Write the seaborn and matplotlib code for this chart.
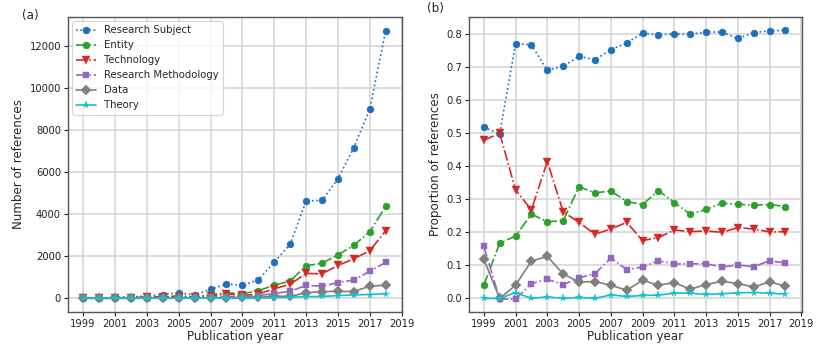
import matplotlib
matplotlib.use("Agg")
import matplotlib.pyplot as plt
import seaborn as sns
import numpy as np

years = list(range(1999, 2019))
series_names = ["Research Subject", "Entity", "Technology",
                "Research Methodology", "Data", "Theory"]

# (a) Number of references
count_subject = [26, 6, 55, 70, 105, 180, 265, 155, 420, 685, 615, 878, 1720, 2570, 4630, 4655, 5680, 7160, 9000, 12720]
count_entity = [2, 2, 13, 23, 35, 60, 122, 69, 181, 260, 218, 359, 624, 820, 1550, 1665, 2060, 2520, 3170, 4370]
count_technology = [24, 6, 23, 24, 63, 67, 83, 42, 117, 204, 134, 203, 450, 670, 1180, 1165, 1560, 1880, 2260, 3210]
count_methodology = [8, 0, 0, 4, 9, 11, 22, 16, 68, 77, 73, 126, 230, 335, 610, 580, 750, 870, 1290, 1710]
count_data = [6, 0, 3, 10, 19, 19, 18, 11, 22, 22, 42, 44, 103, 90, 260, 320, 330, 320, 580, 620]
count_theory = [0, 0, 1, 0, 1, 0, 1, 0, 6, 5, 7, 11, 34, 51, 75, 90, 125, 160, 180, 215]

# (b) Proportion of references
prop_subject = [0.517, 0.498, 0.770, 0.767, 0.690, 0.702, 0.732, 0.722, 0.752, 0.773, 0.802, 0.797, 0.800, 0.799, 0.806, 0.805, 0.786, 0.804, 0.809, 0.811]
prop_entity = [0.040, 0.167, 0.189, 0.255, 0.232, 0.235, 0.338, 0.319, 0.325, 0.293, 0.284, 0.326, 0.290, 0.255, 0.269, 0.288, 0.285, 0.282, 0.284, 0.278]
prop_technology = [0.478, 0.500, 0.328, 0.268, 0.414, 0.262, 0.230, 0.194, 0.210, 0.230, 0.175, 0.184, 0.207, 0.202, 0.204, 0.200, 0.214, 0.210, 0.201, 0.202]
prop_methodology = [0.158, -0.002, -0.002, 0.045, 0.058, 0.042, 0.062, 0.075, 0.122, 0.087, 0.095, 0.114, 0.104, 0.105, 0.105, 0.095, 0.101, 0.096, 0.114, 0.107]
prop_data = [0.119, 0.000, 0.040, 0.113, 0.127, 0.074, 0.050, 0.051, 0.040, 0.025, 0.055, 0.040, 0.048, 0.028, 0.042, 0.052, 0.045, 0.035, 0.050, 0.037]
prop_theory = [0.000, 0.000, 0.018, 0.000, 0.005, 0.000, 0.003, 0.000, 0.011, 0.006, 0.009, 0.010, 0.016, 0.016, 0.012, 0.014, 0.017, 0.018, 0.016, 0.013]

counts = [count_subject, count_entity, count_technology, count_methodology, count_data, count_theory]
props = [prop_subject, prop_entity, prop_technology, prop_methodology, prop_data, prop_theory]

colors = ["#1f6fba", "#2ca02c", "#d62728", "#9467bd", "#7f7f7f", "#17becf"]
markers = ["o", "o", "v", "s", "D", "*"]
linestyles = [":", "-.", "-.", "-.", "-", "-"]
msizes = [5.0, 5.0, 5.4, 4.8, 4.8, 5.6]

sns.set_theme(style="whitegrid", rc={
    "axes.edgecolor": "#555555",
    "axes.linewidth": 1.0,
    "grid.color": "#d3d3d3",
    "grid.linewidth": 1.1,
    "xtick.bottom": True,
    "ytick.left": True,
    "xtick.color": "#222222",
    "ytick.color": "#222222",
    "xtick.major.size": 3,
    "ytick.major.size": 3,
    "axes.facecolor": "white",
})
plt.rcParams["font.family"] = ["DejaVu Sans"]

fig = plt.figure(figsize=(8.22, 3.51), dpi=100)
ax1 = fig.add_axes([0.0827, 0.112, 0.4063, 0.8396])
ax2 = fig.add_axes([0.5702, 0.112, 0.4051, 0.8396])

for ax, data in ((ax1, counts), (ax2, props)):
    for name, vals, c, m, ls, ms in zip(series_names, data, colors, markers, linestyles, msizes):
        sns.lineplot(x=years, y=vals, ax=ax, color=c, marker=m, linestyle=ls,
                     linewidth=1.2, markersize=ms, markeredgewidth=0.3,
                     markeredgecolor=c, label=name, legend=False)
    ax.set_xticks(list(range(1999, 2020, 2)))
    ax.set_xlim(1998.05, 2019.02)
    ax.tick_params(axis="both", labelsize=7.2, pad=2, length=3, width=0.8)
    ax.set_xlabel("Publication year", fontsize=8.6, labelpad=1)
    for s in ax.spines.values():
        s.set_color("#555555")

ax1.set_ylim(-636, 13368)
ax1.set_yticks([0, 2000, 4000, 6000, 8000, 10000, 12000])
ax1.set_ylabel("Number of references", fontsize=8.6, labelpad=3)
ax2.set_ylim(-0.04, 0.851)
ax2.set_yticks([0.0, 0.1, 0.2, 0.3, 0.4, 0.5, 0.6, 0.7, 0.8])
ax2.set_yticklabels(["0.0", "0.1", "0.2", "0.3", "0.4", "0.5", "0.6", "0.7", "0.8"])
ax2.set_ylabel("Proportion of references", fontsize=8.6, labelpad=3)

handles, labels = ax1.get_legend_handles_labels()
leg = ax1.legend(handles, labels, loc="upper left", fontsize=7.3, frameon=True,
                 borderaxespad=0.4, handlelength=2.0, labelspacing=0.5)
leg.get_frame().set_edgecolor("#cccccc")
leg.get_frame().set_linewidth(0.8)

fig.text(0.027, 0.955, "(a)", fontsize=8.6, ha="left", va="center")
fig.text(0.519, 0.975, "(b)", fontsize=8.6, ha="left", va="center")

fig.savefig("out.png", dpi=100)
